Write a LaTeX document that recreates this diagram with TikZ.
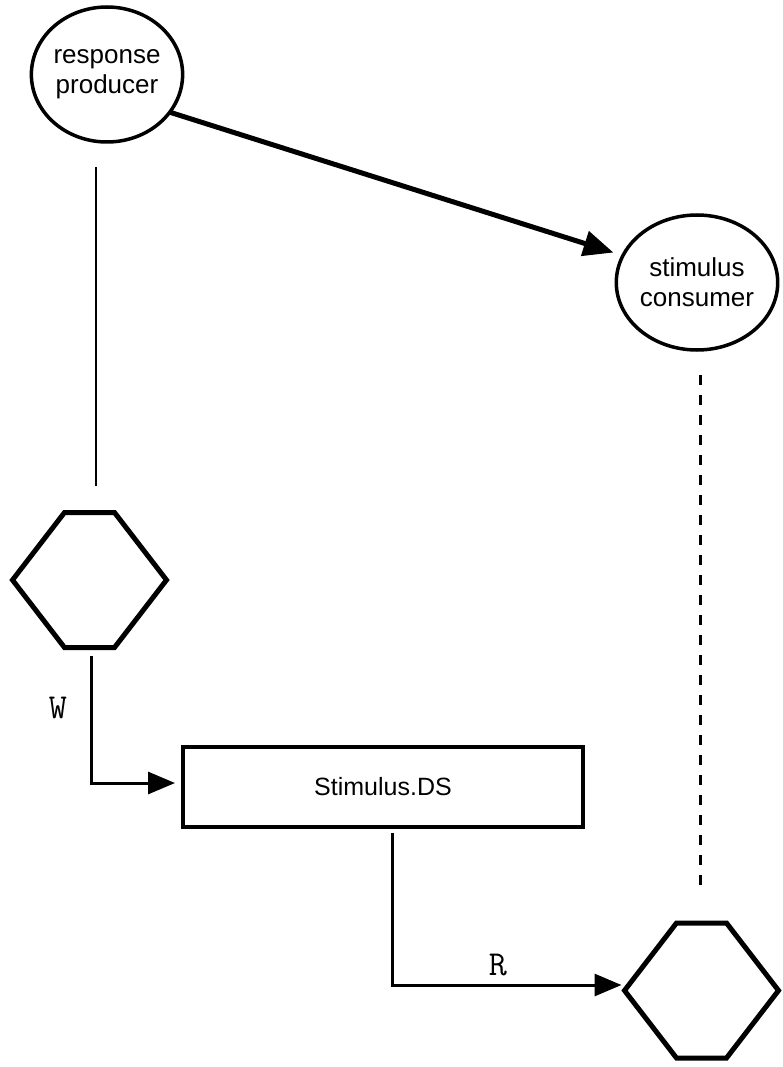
\documentclass[tikz,border=0pt]{standalone}
\usepackage{fontspec}
\setmainfont{Liberation Sans}
\usetikzlibrary{arrows.meta,shapes.geometric,calc}

% flat-topped hexagon drawn around an invisible frame node
\newcommand\drawhexagon[1]{%
  \draw[hexline] ($(#1.north)+(-25,0)$) -- ($(#1.north)+(25,0)$) -- (#1.east)
    -- ($(#1.south)+(25,0)$) -- ($(#1.south)+(-25,0)$) -- (#1.west) -- cycle;}

\begin{document}
\begin{tikzpicture}[x=1pt,y=-1pt,
  proc/.style={ellipse,draw,line width=3.5pt,inner sep=0pt,outer sep=0pt,
    minimum width=150pt,minimum height=135pt,align=center,
    font=\fontsize{26}{30}\selectfont},
  store/.style={rectangle,draw,line width=3.2pt,minimum width=400pt,
    minimum height=80pt,inner sep=0pt,outer sep=0pt,
    font=\fontsize{25}{30}\selectfont},
  hexframe/.style={rectangle,draw=none,minimum width=154pt,
    minimum height=135pt,inner sep=0pt,outer sep=0pt},
  hexline/.style={line width=5pt,line join=miter},
  flow/.style={line width=3pt,-{Triangle[length=27pt,width=22pt]}},
  bigflow/.style={line width=5pt,-{Triangle[length=30pt,width=25pt]}},
  dashline/.style={line width=3pt,dash pattern=on 10pt off 10pt},
  thinline/.style={line width=2.2pt},
  acclabel/.style={font=\ttfamily\fontsize{35}{35}\selectfont,inner sep=0pt}
]
\useasboundingbox (0,0) rectangle (782,1067);

% processes
\node[proc] (rp) at (107,74.5) {response\\producer};
\node[proc] (sc) at (697,282.5) {stimulus\\consumer};

% data store
\node[store] (ds) at (383,787) {Stimulus.DS};

% access hexagons
\node[hexframe] (hl) at (89.5,580) {};
\node[hexframe] (hr) at (701.5,990.5) {};
\drawhexagon{hl}
\drawhexagon{hr}

% stimulus flow between processes
\draw[bigflow,shorten >=10pt] (rp.-31) -- (sc.160);

% process-to-access links
\draw[thinline,shorten <=25pt,shorten >=27pt]
  ([xshift=-11pt]rp.south) -- ([xshift=-11pt]rp.south |- hl.north);
\draw[dashline,shorten <=25pt,shorten >=30pt]
  ([xshift=3pt]sc.south) -- ([xshift=3pt]sc.south |- hr.north);

% write and read accesses
\draw[flow,shorten <=8pt,shorten >=8pt]
  ([xshift=1.5pt]hl.south) |- ([yshift=4pt]ds.west);
\draw[flow,shorten <=6pt,shorten >=3pt]
  ([xshift=9pt]ds.south) |- ([yshift=5.5pt]hr.west);

\node[acclabel] (wlab) at (58,708) {W};
\node[acclabel] (rlab) at (498,965) {R};
\end{tikzpicture}
\end{document}
